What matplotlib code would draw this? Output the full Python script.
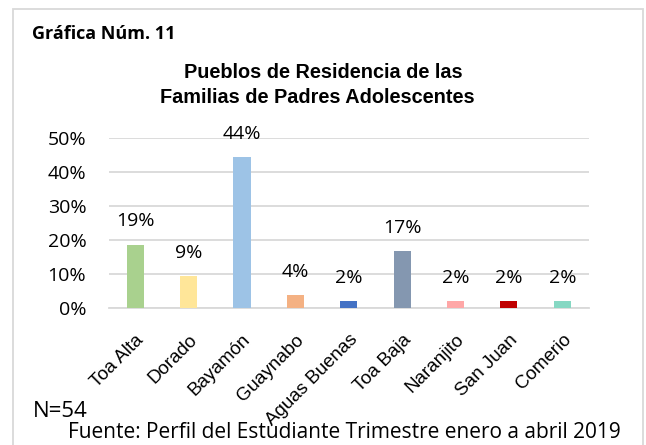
import matplotlib.pyplot as plt
from matplotlib.patches import Rectangle

# data (N=54)
pueblos = ['Toa Alta', 'Dorado', 'Bayamón', 'Guaynabo', 'Aguas Buenas',
           'Toa Baja', 'Naranjito', 'San Juan', 'Comerio']
porcentajes = [18.52, 9.26, 44.44, 3.7, 1.85, 16.67, 1.85, 1.85, 1.85]
colores = ['#A9D18E', '#FFE699', '#9DC3E6', '#F4B183', '#4472C4',
           '#8497B0', '#FFA7A7', '#C00000', '#86D8C3']
y_ticks = [0, 10, 20, 30, 40, 50]

W, H = 646, 445
fig = plt.figure(figsize=(W / 100, H / 100), dpi=100)

# light grey frame around the whole chart
fig.patches.append(Rectangle((13 / W, -0.05), 630 / W, 1 - 9 / H + 0.05,
                             transform=fig.transFigure, fill=False,
                             edgecolor='#D9D9D9', linewidth=1.3))

ax = fig.add_axes([108.5 / W, 1 - 307.7 / H, 480.5 / W, 169.4 / H])
x = range(len(pueblos))
ax.bar(x, porcentajes, width=0.32, color=colores, zorder=3)

for i, v in enumerate(porcentajes):
    ax.annotate(f'{round(v)}%', (i, v), xytext=(0, 17), textcoords='offset points',
                ha='center', va='center', fontsize=14, family='Open Sans')

ax.set_xlim(-0.5, len(pueblos) - 0.5)
ax.set_ylim(0, 50)
ax.set_yticks(y_ticks)
ax.set_yticklabels([f'{t}%' for t in y_ticks], family='Open Sans', fontsize=14)
ax.set_xticks(list(x))
ax.set_xticklabels(pueblos, rotation=45, ha='right', rotation_mode='anchor',
                   family='Liberation Sans', fontsize=13.5)
ax.tick_params(axis='both', length=0)
ax.tick_params(axis='y', pad=16)
ax.tick_params(axis='x', pad=17)
ax.grid(axis='y', color='#D9D9D9', linewidth=1.3, zorder=0)
for s in ['top', 'right', 'left']:
    ax.spines[s].set_visible(False)
ax.spines['bottom'].set_color('#D9D9D9')
ax.spines['bottom'].set_linewidth(1.3)

fig.text(32 / W, 1 - 39 / H, 'Gráfica Núm. 11', family='Open Sans', fontweight='bold',
         fontsize=13, va='baseline')
fig.text(323 / W, 1 - 77.5 / H, 'Pueblos de Residencia de las', family='Liberation Sans',
         fontweight='bold', fontsize=14.3, ha='center', va='baseline')
fig.text(317 / W, 1 - 103 / H, 'Familias de Padres Adolescentes', family='Liberation Sans',
         fontweight='bold', fontsize=14.3, ha='center', va='baseline')
fig.text(33 / W, 1 - 417 / H, 'N=54', family='Open Sans', fontsize=16, va='baseline')
fig.text(344 / W, 1 - 438 / H, 'Fuente: Perfil del Estudiante Trimestre enero a abril 2019',
         family='Open Sans', fontsize=15, ha='center', va='baseline')

fig.savefig('out.png', dpi=100)
